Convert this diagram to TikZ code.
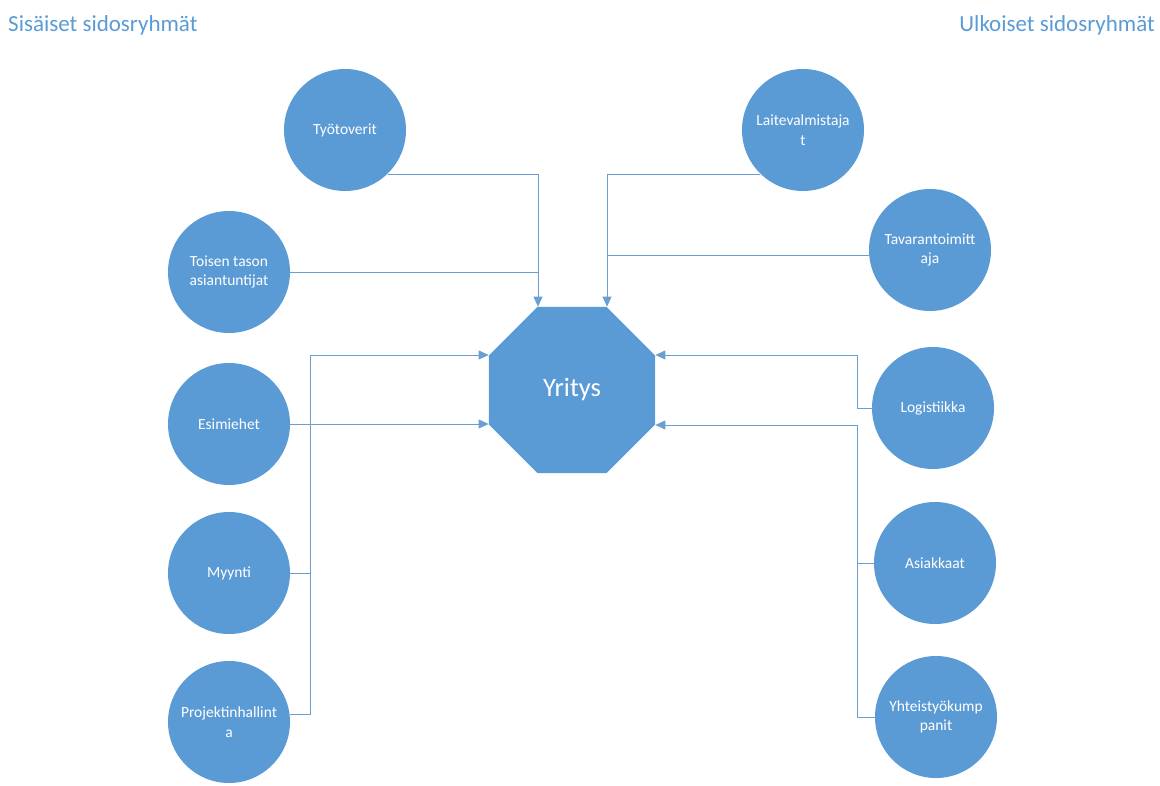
\documentclass[tikz,border=0pt]{standalone}
\usepackage{fontspec}
\setmainfont{Carlito}
\usetikzlibrary{shapes.geometric,arrows.meta}
\definecolor{obl}{HTML}{5B9BD5}
\definecolor{lnc}{HTML}{6A9FD2}
\tikzset{
  circ/.style={circle,fill=obl,minimum size=122pt,inner sep=0pt,text=white,font=\fontsize{15.5}{19.5}\selectfont,align=center},
  conn/.style={draw=lnc,line width=1pt},
  arr/.style={conn,-{Triangle[length=10pt,width=9pt]}},
  ttl/.style={text=obl,font=\fontsize{23}{26}\selectfont,inner sep=0pt}
}
\begin{document}
\begin{tikzpicture}[x=1pt,y=-1pt]
\useasboundingbox (0,0) rectangle (1160,785);
\node[ttl,anchor=west] (tl) at (8,25) {Sisäiset sidosryhmät};
\node[ttl,anchor=east] (tr) at (1155,25) {Ulkoiset sidosryhmät};

\node[regular polygon,regular polygon sides=8,minimum size=180pt,inner sep=0pt,fill=obl,text=white,font=\fontsize{26.5}{30}\selectfont] (oct) at (572,390) {Yritys};

\node[circ] (tyo) at (345,130) {Työtoverit};
\node[circ] (toi) at (229,272) {Toisen tason\\asiantuntijat};
\node[circ] (esi) at (229,424) {Esimiehet};
\node[circ] (myy) at (229,573) {Myynti};
\node[circ] (pro) at (229,722) {Projektinhallint\\a};

\node[circ] (lai) at (803,130) {Laitevalmistaja\\t};
\node[circ] (tav) at (930,250) {Tavarantoimitt\\aja};
\node[circ] (log) at (933,408) {Logistiikka};
\node[circ] (asi) at (935,563) {Asiakkaat};
\node[circ] (yht) at (936,717) {Yhteistyökump\\panit};

\coordinate (xl) at (538,0);
\coordinate (xr) at (607,0);
\coordinate (lt) at (310,355);
\coordinate (rt) at (857,355);
\coordinate (rb) at (857,425);

% top
\draw[arr] (tyo.-46) -| (xl |- oct.north);
\draw[conn] (toi.east) -- (toi.east -| xl);
\draw[arr] (lai.226) -| (xr |- oct.north);
\draw[conn] (tav.185) -- (tav.185 -| xr);

% left
\draw[arr] (pro.7) -| (lt) -- (lt -| oct.west);
\draw[arr] (esi.east) -- (esi.east -| oct.west);
\draw[conn] (myy.east) -- (myy.east -| lt);

% right
\draw[arr] (log.west) -| (rt) -- (rt -| oct.east);
\draw[arr] (yht.west) -| (rb) -- (rb -| oct.east);
\draw[conn] (asi.west) -- (asi.west -| rb);
\end{tikzpicture}
\end{document}
